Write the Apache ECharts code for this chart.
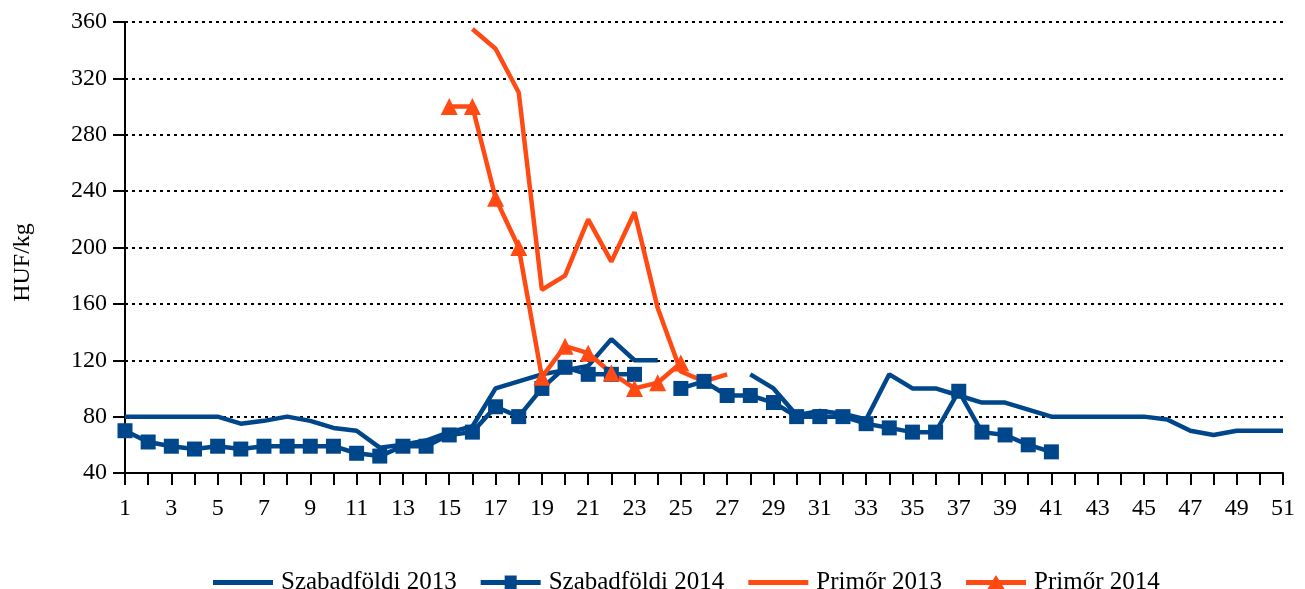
<!DOCTYPE html>
<html>
<head>
<meta charset="utf-8">
<script src="https://cdn.jsdelivr.net/npm/echarts@6/dist/echarts.min.js"></script>
<style>
  html, body { margin: 0; padding: 0; background: #fff; }
  #chartRoot { width: 1305px; height: 589px; }
</style>
</head>
<body>
<div id="chartRoot"></div>
<script>
// weeks 1..51
const weeks = [];
for (let i = 1; i <= 51; i++) weeks.push(String(i));

const szabad2013 = [
  80, 80, 80, 80, 80, 75, 77, 80, 77, 72,
  70, 58, 60, 63, 69, 73, 100, 105, 110, 113,
  116, 135, 120, 120, null, null, null, 110, 100, 81,
  84, 82, 78, 110, 100, 100, 95, 90, 90, 85,
  80, 80, 80, 80, 80, 78, 70, 67, 70, 70,
  70,
];
const szabad2014 = [
  70, 62, 59, 57, 59, 57, 59, 59, 59, 59,
  54, 52, 59, 59, 67, 69, 87, 80, 100, 115,
  110, 110, 110, null, 100, 105, 95, 95, 90, 80,
  80, 80, 75, 72, 69, 69, 98, 69, 67, 60,
  55,
];
const primor2013 = [
  null, null, null, null, null, null, null, null, null, null,
  null, null, null, null, null, 355, 341, 310, 170, 180,
  220, 190, 225, 157, 112, 105, 110,
];
const primor2014 = [
  null, null, null, null, null, null, null, null, null, null,
  null, null, null, null, 300, 300, 235, 200, 108, 130,
  125, 111, 100, 104, 118,
];
const yTicks = { min: 40, max: 360, step: 40 };

const blue = "#00468B";
const orange = "#FF4A14";
const font = "Liberation Serif";

// legend icons in a 60x16 box; tiny corner dots keep the box from being stretched
const corners = " M0,0 L0.1,0 L0,0.1 Z M60,16 L59.9,16 L60,15.9 Z";
const iconLine = "path://M0,5.5 L60,5.5 L60,10.5 L0,10.5 Z" + corners;
const iconSquare = "path://M0,5.5 L60,5.5 L60,10.5 L0,10.5 Z M24,1 L36,1 L36,15 L24,15 Z" + corners;
const iconTriangle = "path://M0,5.5 L60,5.5 L60,10.5 L0,10.5 Z M30,0.5 L39.5,16 L20.5,16 Z" + corners;

const chart = echarts.init(document.getElementById("chartRoot"));
chart.setOption({
  animation: false,
  grid: { left: 125, right: 22, top: 22, bottom: 116, containLabel: false, outerBoundsMode: "none" },
  legend: {
    top: 565,
    left: 208,
    itemWidth: 60,
    itemHeight: 16,
    itemGap: 24,
    symbolKeepAspect: false,
    textStyle: { fontFamily: font, fontSize: 25, color: "#000", padding: [0, 0, 0, 3] },
    data: [
      { name: "Szabadföldi 2013", icon: iconLine },
      { name: "Szabadföldi 2014", icon: iconSquare },
      { name: "Primőr 2013", icon: iconLine },
      { name: "Primőr 2014", icon: iconTriangle },
    ],
  },
  xAxis: {
    type: "category",
    data: weeks,
    boundaryGap: false,
    axisLine: { lineStyle: { color: "#000", width: 2 } },
    axisTick: { show: true, interval: 0, length: 12, lineStyle: { color: "#000", width: 2 } },
    axisLabel: { interval: 1, color: "#000", fontFamily: font, fontSize: 24, margin: 24 },
    splitLine: { show: false },
  },
  yAxis: {
    type: "value",
    min: yTicks.min,
    max: yTicks.max,
    interval: yTicks.step,
    name: "HUF/kg",
    nameLocation: "middle",
    nameGap: 90,
    nameRotate: 90,
    nameTextStyle: { fontFamily: font, fontSize: 24, color: "#000", padding: [0, 30, 0, 0] },
    axisLine: { show: true, lineStyle: { color: "#000", width: 2 } },
    axisTick: { show: true, length: 12, lineStyle: { color: "#000", width: 2 } },
    axisLabel: { color: "#000", fontFamily: font, fontSize: 24, margin: 18 },
    splitLine: { show: true, lineStyle: { color: "#000", width: 2, type: [3, 4] } },
  },
  series: [
    {
      name: "Szabadföldi 2013",
      type: "line",
      data: szabad2013,
      symbol: "none",
      lineStyle: { color: blue, width: 4.5 },
      itemStyle: { color: blue },
    },
    {
      name: "Szabadföldi 2014",
      type: "line",
      data: szabad2014,
      symbol: "rect",
      symbolSize: 15,
      showAllSymbol: true,
      lineStyle: { color: blue, width: 4.5 },
      itemStyle: { color: blue },
    },
    {
      name: "Primőr 2013",
      type: "line",
      data: primor2013,
      symbol: "none",
      lineStyle: { color: orange, width: 4.5 },
      itemStyle: { color: orange },
    },
    {
      name: "Primőr 2014",
      type: "line",
      data: primor2014,
      symbol: "triangle",
      symbolSize: 17,
      showAllSymbol: true,
      lineStyle: { color: orange, width: 4.5 },
      itemStyle: { color: orange },
    },
  ],
});
</script>
</body>
</html>
